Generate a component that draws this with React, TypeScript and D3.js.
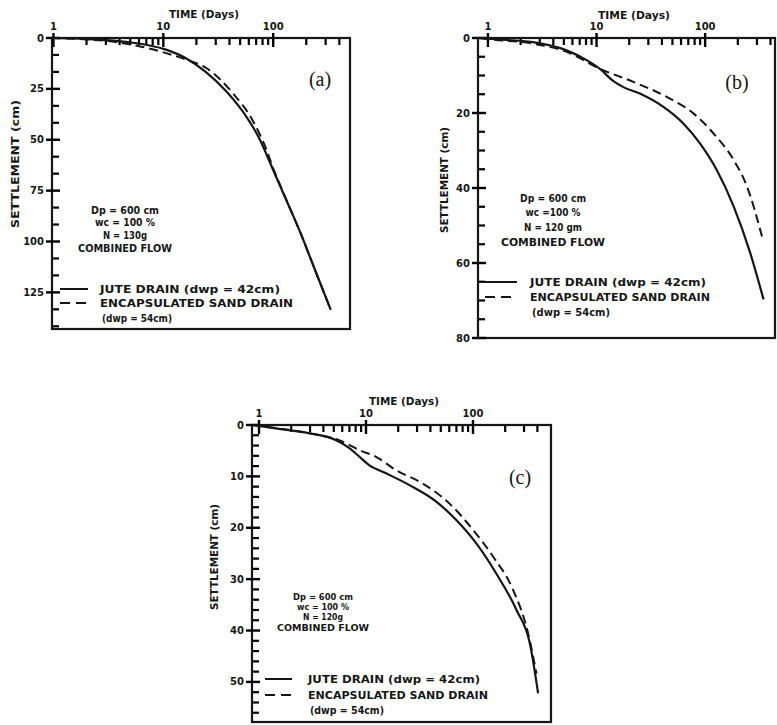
import React from "react";
import * as d3 from "d3";

// ---------- DATA ----------
const xMajorTicks = [1, 10, 100];
const xMinorTicks = [2, 3, 4, 5, 6, 7, 8, 9, 20, 30, 40, 50, 60, 70, 80, 90, 200, 300, 400];

const yTicksA = [0, 25, 50, 75, 100, 125];
const yTicksB = [0, 20, 40, 60, 80];
const yTicksC = [0, 10, 20, 30, 40, 50];

// [time (days), settlement (cm)]
const juteA: [number, number][] = [
  [0.97, 0], [2, 0.5], [3, 1], [5.1, 2.2], [10.4, 5.6], [15.9, 9.8], [24.3, 16.6], [37, 25.9],
  [52.8, 36.1], [75.3, 49.7], [100, 64.9], [133, 80.2], [176, 95.4], [234, 112.4], [334, 133.6],
];
const sandA: [number, number][] = [
  [0.97, 0], [2, 0.7], [3, 1.4], [5.9, 3.9], [10.4, 7.3], [15.9, 10.5], [25, 15], [42.7, 27],
  [65, 40.5], [87, 55], [100, 64], [133, 80], [176, 95.4], [234, 112.4], [334, 133.6],
];
const juteB: [number, number][] = [
  [0.85, 0], [1, 0.2], [2.6, 1.1], [5.3, 3.3], [8.1, 5.9], [10.7, 8.2], [14.3, 11.5], [17.7, 13.1],
  [25, 14.8], [41, 18.3], [63, 22.8], [89.6, 28.1], [128, 35.2], [183, 44.9], [260, 57.3], [345, 69.7],
];
const sandB: [number, number][] = [
  [0.85, 0], [1, 0.3], [2.6, 1.5], [5.3, 3.7], [10.7, 8.2], [21.8, 11.7], [44.3, 15.7], [78, 20.1],
  [119, 25.4], [183, 32.5], [243, 39.6], [334, 52.9],
];
const juteC: [number, number][] = [
  [0.88, 0], [1.43, 0.65], [2.94, 1.6], [5.2, 2.9], [7, 4.5], [8.7, 6.2], [10.7, 7.8], [15.4, 9.4],
  [25.5, 11.7], [45.3, 14.9], [69.8, 18.5], [107, 23], [165, 28.9], [255, 36], [340, 42.5], [406, 52.2],
];
const sandC: [number, number][] = [
  [0.88, 0], [1.43, 0.6], [2.94, 1.6], [6, 3.2], [8.7, 4.9], [12.4, 6.2], [19.1, 8.8], [34, 11.4],
  [60.4, 15.3], [100, 20.4], [154, 25.6], [237, 32.1], [328, 40.6], [392, 48.4],
];

const notesA = ["Dp = 600 cm", "wc = 100 %", "N = 130g", "COMBINED FLOW"];
const notesB = ["Dp = 600 cm", "wc =100 %", "N = 120 gm", "COMBINED FLOW"];
const notesC = ["Dp = 600 cm", "wc = 100 %", "N = 120g", "COMBINED FLOW"];

const legendJute = "JUTE DRAIN (dwp = 42cm)";
const legendSand = "ENCAPSULATED SAND DRAIN";
const legendSand2 = "(dwp = 54cm)";

const INK = "#161616";
const TICK = "#000000";
const SANS = "'DejaVu Sans', 'Liberation Sans', Arial, sans-serif";

type PanelProps = {
  tag: string;
  box: { l: number; r: number; t: number; b: number };
  xDomain: [number, number];
  yDomain: [number, number];
  yTicks: number[];
  yMinorStep: number;
  jute: [number, number][];
  sand: [number, number][];
  notes: string[];
  notePos: { x: number; ys: number[]; widths: number[]; size: number };
  tagPos: [number, number];
  timePos: [number, number, number];
  settlePos: [number, number, number];
  legend: { lx0: number; lx1: number; tx: number; ys: number[]; widths: number[]; size: number };
};

function Panel(p: PanelProps) {
  const { box } = p;
  const xs = d3.scaleLog().domain(p.xDomain).range([box.l, box.r]);
  const ys = d3.scaleLinear().domain(p.yDomain).range([box.t, box.b]);
  const curveGen = d3
    .line<[number, number]>()
    .x((d) => xs(d[0]))
    .y((d) => ys(d[1]))
    .curve(d3.curveMonotoneX);
  const minorY: number[] = [];
  const nMinor = Math.floor((p.yDomain[1] - p.yDomain[0]) / p.yMinorStep + 1e-6);
  for (let i = 0; i <= nMinor; i++) {
    const v = p.yDomain[0] + i * p.yMinorStep;
    if (!p.yTicks.some((t) => Math.abs(t - v) < 1e-6)) minorY.push(v);
  }
  const minorX = xMinorTicks.filter((t) => t > p.xDomain[0] && t < p.xDomain[1]);

  return (
    <g>
      <rect x={box.l} y={box.t} width={box.r - box.l} height={box.b - box.t} fill="none" stroke={INK} strokeWidth={2.2} />
      {xMajorTicks.map((t) => (
        <rect key={"xt" + t} x={xs(t) - 1.2} y={box.t - 5} width={2.4} height={14} fill={TICK} />
      ))}
      {minorX.map((t) => (
        <rect key={"xn" + t} x={xs(t) - 1.1} y={box.t} width={2.2} height={7} fill={TICK} />
      ))}
      {p.yTicks.map((t) => (
        <rect key={"yt" + t} x={box.l - 6} y={ys(t) - 1.2} width={14} height={2.4} fill={TICK} />
      ))}
      {minorY.map((t) => (
        <rect key={"yn" + t} x={box.l} y={ys(t) - 1.1} width={7} height={2.2} fill={TICK} />
      ))}
      {xMajorTicks.map((t) => (
        <text key={"xl" + t} x={xs(t)} y={box.t - 8} textAnchor="middle" fontFamily={SANS} fontWeight="bold" fontSize={10} fill={INK}>
          {t}
        </text>
      ))}
      {p.yTicks.map((t) => (
        <text key={"yl" + t} x={box.l - 8} y={ys(t) + 3.5} textAnchor="end" fontFamily={SANS} fontWeight="bold" fontSize={10} fill={INK}>
          {t}
        </text>
      ))}
      {/* axis titles */}
      <text
        x={p.timePos[0]}
        y={p.timePos[1]}
        dy="0.35em"
        textAnchor="middle"
        fontFamily={SANS}
        fontWeight="bold"
        fontSize={10}
        fill={INK}
        textLength={p.timePos[2]}
        lengthAdjust="spacingAndGlyphs"
      >
        TIME (Days)
      </text>
      <text
        transform={`translate(${p.settlePos[0]},${p.settlePos[1]}) rotate(-90)`}
        textAnchor="middle"
        dy="0.35em"
        fontFamily={SANS}
        fontWeight="bold"
        fontSize={11}
        fill={INK}
        textLength={p.settlePos[2]}
        lengthAdjust="spacingAndGlyphs"
      >
        SETTLEMENT (cm)
      </text>
      {/* curves */}
      <path d={curveGen(p.jute) || ""} fill="none" stroke={INK} strokeWidth={2.2} strokeLinejoin="round" />
      <path d={curveGen(p.sand) || ""} fill="none" stroke={INK} strokeWidth={2} strokeDasharray="9,5" />
      {/* tag */}
      <text x={p.tagPos[0]} y={p.tagPos[1]} textAnchor="middle" dy="0.35em" fontFamily="'Liberation Serif', 'Times New Roman', serif" fontSize={20} fill={INK}>
        {p.tag}
      </text>
      {/* notes */}
      {p.notes.map((s, i) => (
        <text
          key={"n" + i}
          x={p.notePos.x}
          y={p.notePos.ys[i]}
          dy="0.35em"
          textAnchor="middle"
          fontFamily={SANS}
          fontWeight="bold"
          fontSize={p.notePos.size}
          fill={INK}
          textLength={p.notePos.widths[i]}
          lengthAdjust="spacingAndGlyphs"
        >
          {s}
        </text>
      ))}
      {/* legend */}
      <path d={`M${p.legend.lx0},${p.legend.ys[0]}H${p.legend.lx1}`} stroke={INK} strokeWidth={2} />
      <path d={`M${p.legend.lx0},${p.legend.ys[1]}H${p.legend.lx1}`} stroke={INK} strokeWidth={2} strokeDasharray="10,6" />
      {[legendJute, legendSand, legendSand2].map((s, i) => (
        <text
          key={"l" + i}
          x={p.legend.tx + (i === 2 ? 2 : 0)}
          y={p.legend.ys[i]}
          dy="0.35em"
          fontFamily={SANS}
          fontWeight="bold"
          fontSize={p.legend.size}
          fill={INK}
          textLength={p.legend.widths[i]}
          lengthAdjust="spacingAndGlyphs"
        >
          {s}
        </text>
      ))}
    </g>
  );
}

export default function App() {
  return (
    <svg width={777} height={725} style={{ position: "absolute", left: 0, top: 0, background: "#fff" }}>
      <rect width={777} height={725} fill="#fff" />
      <Panel
        tag="(a)"
        box={{ l: 52, r: 350, t: 38, b: 329 }}
        xDomain={[0.97, 500]}
        yDomain={[0, 143]}
        yTicks={yTicksA}
        yMinorStep={25 / 3}
        jute={juteA}
        sand={sandA}
        notes={notesA}
        notePos={{ x: 125, ys: [210, 222, 235, 248], widths: [68, 60, 44, 94], size: 10 }}
        tagPos={[320, 79]}
        timePos={[204, 14, 70]}
        settlePos={[15, 164, 128]}
        legend={{ lx0: 60, lx1: 88, tx: 100, ys: [289, 303, 318], widths: [180, 193, 70], size: 11 }}
      />
      <Panel
        tag="(b)"
        box={{ l: 478, r: 775, t: 38, b: 338 }}
        xDomain={[0.81, 440]}
        yDomain={[0, 80]}
        yTicks={yTicksB}
        yMinorStep={5}
        jute={juteB}
        sand={sandB}
        notes={notesB}
        notePos={{ x: 553, ys: [198, 212, 227, 242], widths: [66, 55, 58, 104], size: 11 }}
        tagPos={[737, 82]}
        timePos={[634, 15, 72]}
        settlePos={[444, 180, 106]}
        legend={{ lx0: 485, lx1: 517, tx: 530, ys: [282, 297, 312], widths: [176, 180, 78], size: 11 }}
      />
      <Panel
        tag="(c)"
        box={{ l: 252, r: 551, t: 425, b: 722 }}
        xDomain={[0.86, 536]}
        yDomain={[0, 57.8]}
        yTicks={yTicksC}
        yMinorStep={2}
        jute={juteC}
        sand={sandC}
        notes={notesC}
        notePos={{ x: 323, ys: [597, 607, 617, 628], widths: [60, 52, 40, 92], size: 9.5 }}
        tagPos={[520, 477]}
        timePos={[404, 401, 70]}
        settlePos={[214, 557, 106]}
        legend={{ lx0: 265, lx1: 292, tx: 308, ys: [679, 695, 710], widths: [172, 180, 74], size: 11 }}
      />
    </svg>
  );
}
